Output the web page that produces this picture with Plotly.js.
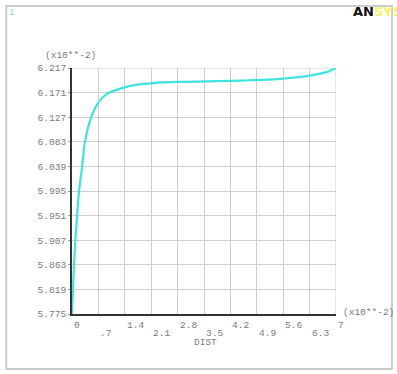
<!DOCTYPE html>
<html>
<head>
<meta charset="utf-8">
<script src="https://cdn.plot.ly/plotly-3.0.1.min.js"></script>
<style>html,body{margin:0;padding:0;background:#fff;}#chart{width:397px;height:374px;}</style>
</head>
<body>
<div id="chart"></div>
<script>
// DIST values (x10**-2)
const dist = [0, 0.027, 0.053, 0.088, 0.133, 0.186, 0.266, 0.34, 0.50, 0.72, 0.94, 1.28, 1.72, 2.16, 2.79, 3.59, 4.2, 4.74, 5.18, 5.6, 6.07, 6.51, 6.78, 6.87, 7.0];
// Response values (x10**-2)
const value = [5.775, 5.819, 5.863, 5.907, 5.951, 5.995, 6.039, 6.083, 6.127, 6.157, 6.171, 6.180, 6.187, 6.190, 6.192, 6.193, 6.194, 6.195, 6.196, 6.198, 6.201, 6.206, 6.210, 6.213, 6.217];

const xTickVals = [0, 0.7, 1.4, 2.1, 2.8, 3.5, 4.2, 4.9, 5.6, 6.3, 7];
const xTickText = ["0", ".7", "1.4", "2.1", "2.8", "3.5", "4.2", "4.9", "5.6", "6.3", "7"];
const yTickText = ["5.775", "5.819", "5.863", "5.907", "5.951", "5.995", "6.039", "6.083", "6.127", "6.171", "6.217"];
const yMin = 5.775, yMax = 6.217;
const yTickVals = yTickText.map((t, i) => yMin + (yMax - yMin) * i / (yTickText.length - 1));

const FONT = "Liberation Mono, Courier New, monospace";
const GRAY = "#7a7a7a";

const annotations = xTickVals.map((v, i) => ({
  x: v, xref: "x", y: (i % 2 === 0) ? -0.045 : -0.080, yref: "paper",
  text: xTickText[i], showarrow: false, xanchor: "left", yanchor: "middle",
  font: {family: FONT, size: 9.5, color: GRAY}
}));
annotations.push(
  {x: -0.004, xref: "paper", y: 1.049, yref: "paper", text: "(x10**-2)", showarrow: false,
   xanchor: "center", yanchor: "middle", font: {family: FONT, size: 9.5, color: GRAY}},
  {x: 1.02, xref: "paper", y: 0.006, yref: "paper", text: "(x10**-2)", showarrow: false,
   xanchor: "left", yanchor: "middle", font: {family: FONT, size: 9.5, color: GRAY}},
  {x: 0.504, xref: "paper", y: -0.114, yref: "paper", text: "DIST", showarrow: false,
   xanchor: "center", yanchor: "middle", font: {family: FONT, size: 9.5, color: GRAY}},
  {x: -0.245, xref: "paper", y: 1.222, yref: "paper", text: "1", showarrow: false,
   xanchor: "left", yanchor: "middle", font: {family: FONT, size: 9, color: "#8fd0cc"}},
  {x: 1.058, xref: "paper", y: 1.228, yref: "paper",
   text: "<b>AN<span style='color:#f6f266'>SYS</span></b>", showarrow: false,
   xanchor: "left", yanchor: "middle", font: {family: "DejaVu Sans, Arial, sans-serif", size: 13, color: "#111"}}
);

const trace = {
  x: dist, y: value, type: "scatter", mode: "lines",
  line: {color: "#3fe3e0", width: 2.2, shape: "spline", smoothing: 0.8},
  hoverinfo: "skip", cliponaxis: false
};

const layout = {
  width: 397, height: 374,
  margin: {l: 72, r: 61, t: 68, b: 60},
  paper_bgcolor: "#fff", plot_bgcolor: "#fff",
  showlegend: false,
  xaxis: {
    range: [0, 7], tickvals: xTickVals, showticklabels: false,
    showgrid: true, gridcolor: "#cfcfcf", gridwidth: 1,
    zeroline: false, showline: true, linecolor: "#333", linewidth: 2,
    ticks: "", fixedrange: true
  },
  yaxis: {
    range: [yMin, yMax], tickvals: yTickVals, ticktext: yTickText,
    showgrid: true, gridcolor: "#cfcfcf", gridwidth: 1,
    zeroline: false, showline: true, linecolor: "#333", linewidth: 2,
    ticks: "outside", ticklen: 2, tickcolor: "#999",
    tickfont: {family: FONT, size: 9.5, color: GRAY}, fixedrange: true
  },
  annotations: annotations,
  shapes: [
    {type: "rect", xref: "paper", yref: "paper", x0: -0.249, x1: 1.212, y0: -0.224, y1: 1.252,
     line: {color: "#cccccc", width: 2}, layer: "below"},
    {type: "line", xref: "x", yref: "y", x0: 7, x1: 7, y0: yMin, y1: yMax, line: {color: "#cfcfcf", width: 1}, layer: "below"},
    {type: "line", xref: "x", yref: "y", x0: 0, x1: 7, y0: yMax, y1: yMax, line: {color: "#cfcfcf", width: 1}, layer: "below"}
  ]
};

Plotly.newPlot("chart", [trace], layout, {staticPlot: true, displayModeBar: false});
</script>
</body>
</html>
